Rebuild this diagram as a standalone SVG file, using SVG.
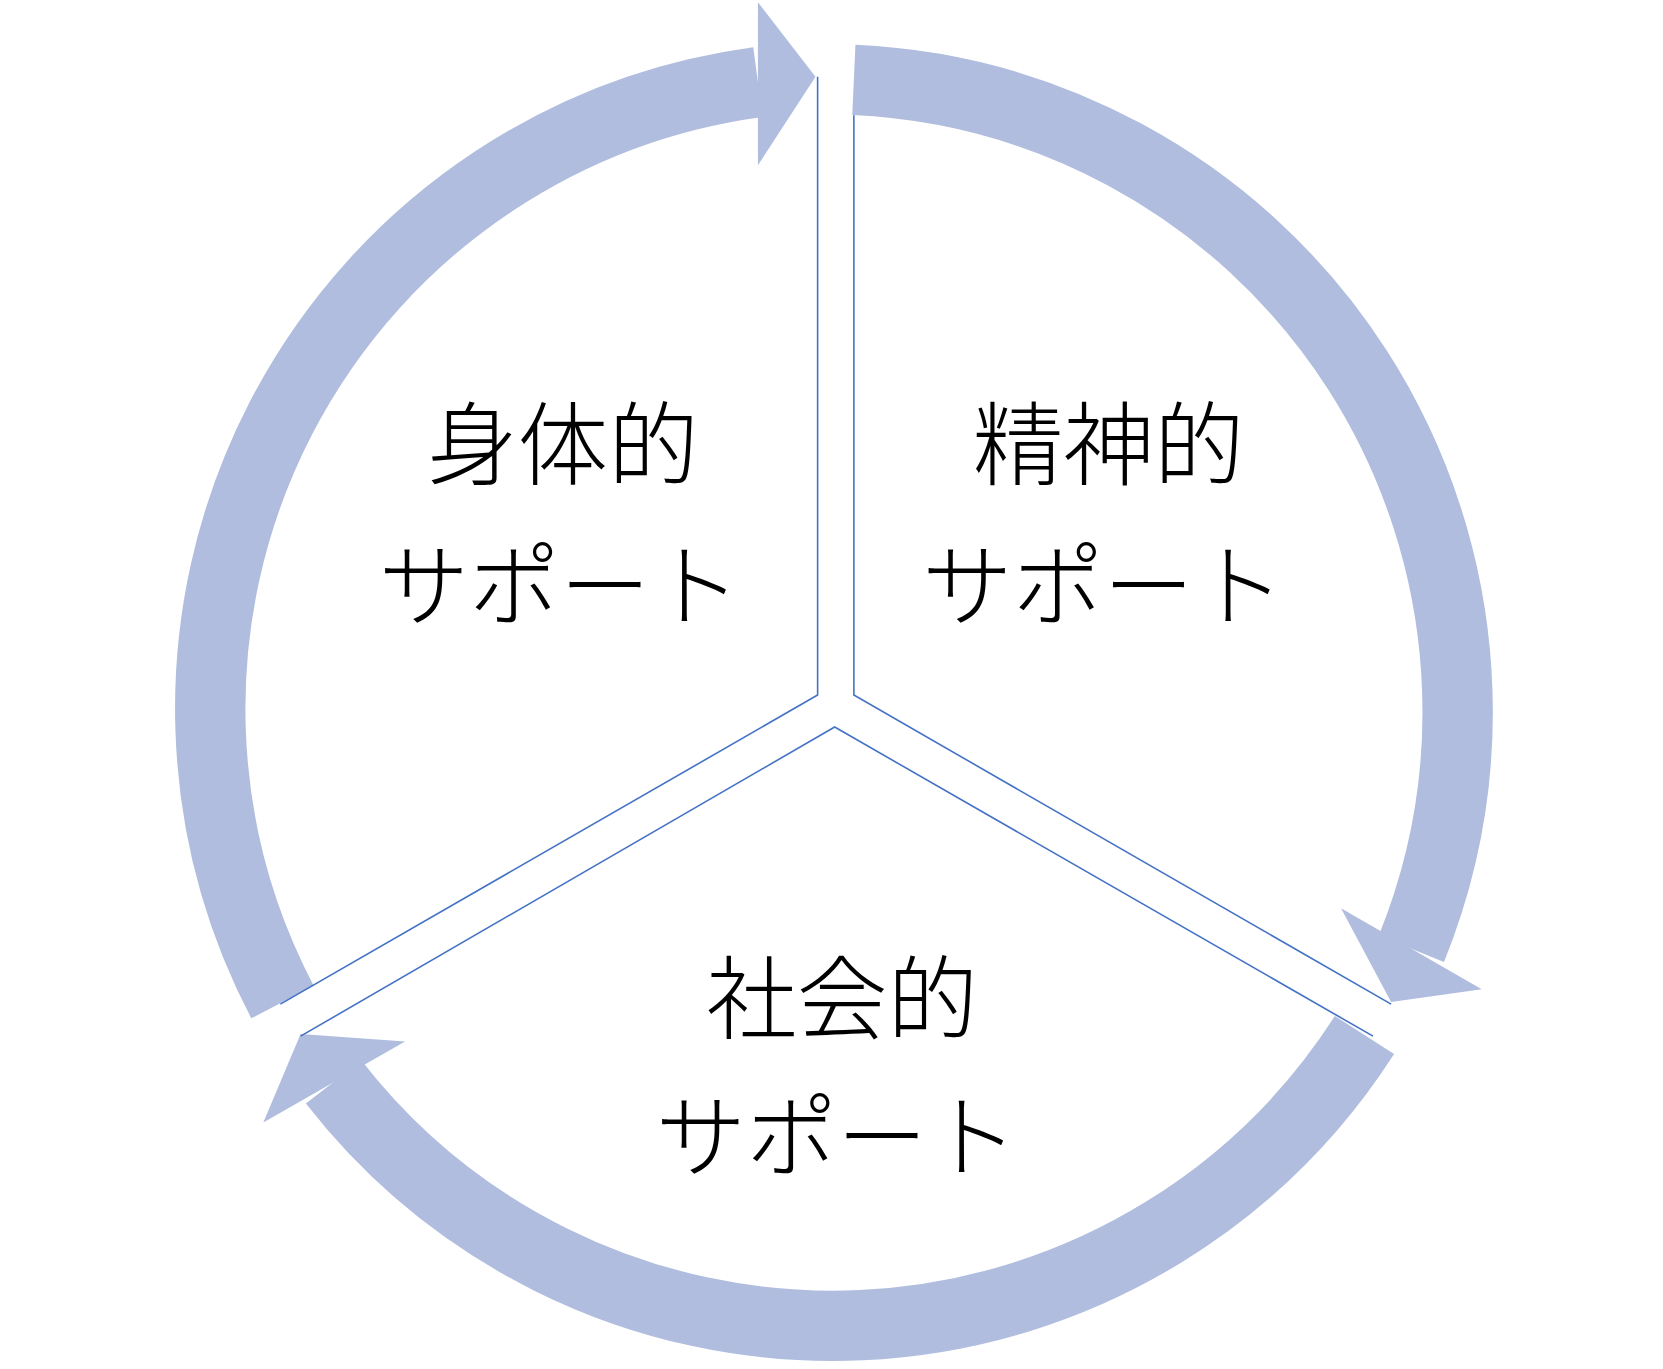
<svg xmlns="http://www.w3.org/2000/svg" width="1663" height="1369" viewBox="0 0 1663 1369">
<style>
.ring{fill:none;stroke:#b0bddf;stroke-width:66}
.head{fill:#b0bddf}
.sep{fill:none;stroke:#4472c4;stroke-width:1.5}
text{font-family:"Noto Sans CJK JP","Noto Sans CJK SC",sans-serif;font-size:85px;font-weight:300;fill:#000;text-anchor:middle}
</style>
<rect width="1663" height="1369" fill="#fff"/>
<g transform="scale(1.066)">
<g id="connectors">
<path class="ring" d="M265,940 A593 593 0 0 1 711,77"/>
<polygon class="head" points="711,2 765,72 711,155"/>
<path class="ring" d="M801,75 A593 593 0 0 1 1324,890"/>
<polygon class="head" points="1258,852 1305,940 1390,928"/>
<path class="ring" d="M1280,971 A593 593 0 0 1 313,1015"/>
<polygon class="head" points="380,977 282,970 247,1053"/>
</g>
<g id="physical">
<polyline class="sep" points="767,72 767,652 263,942"/>
<text x="528" y="448">身体的</text>
<text x="525" y="581">サポート</text>
</g>
<g id="mental">
<polyline class="sep" points="801,108 801,652 1305,942"/>
<text x="1040" y="448">精神的</text>
<text x="1035" y="581">サポート</text>
</g>
<g id="social">
<polyline class="sep" points="282,972 783,682 1288,972"/>
<text x="790" y="968">社会的</text>
<text x="785" y="1098">サポート</text>
</g>
</g>
</svg>
